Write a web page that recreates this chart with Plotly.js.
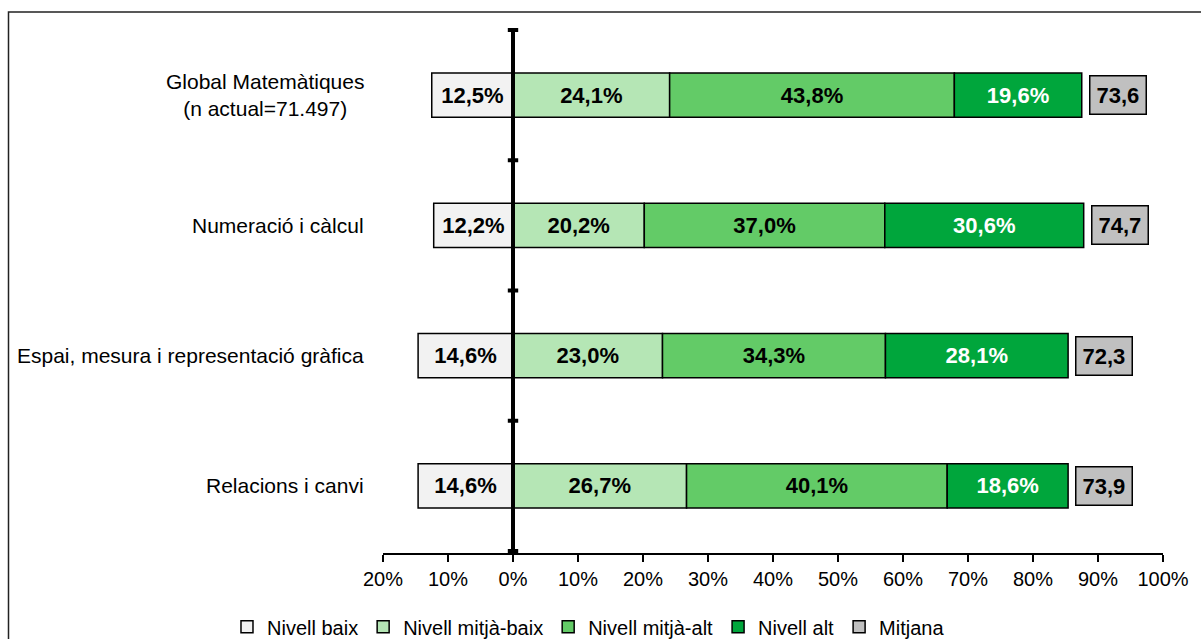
<!DOCTYPE html>
<html>
<head>
<meta charset="utf-8">
<script src="https://cdn.plot.ly/plotly-3.0.1.min.js"></script>
<style>body{margin:0;background:#fff}#chart{width:1201px;height:639px}</style>
</head>
<body>
<div id="chart"></div>
<script>
const categories = ["Global Matemàtiques<br>(n actual=71.497)", "Numeració i càlcul", "Espai, mesura i representació gràfica", "Relacions i canvi"];
const nivellBaix = [12.5, 12.2, 14.6, 14.6];
const nivellMitjaBaix = [24.1, 20.2, 23.0, 26.7];
const nivellMitjaAlt = [43.8, 37.0, 34.3, 40.1];
const nivellAlt = [19.6, 30.6, 28.1, 18.6];
const mitjana = [73.6, 74.7, 72.3, 73.9];
const tickVals = [-20, -10, 0, 10, 20, 30, 40, 50, 60, 70, 80, 90, 100];
const tickText = ["20%", "10%", "0%", "10%", "20%", "30%", "40%", "50%", "60%", "70%", "80%", "90%", "100%"];

const FONT = "Liberation Sans, Arial, sans-serif";
const fmt = v => v.toFixed(1).replace('.', ',') + '%';
const fmtN = v => v.toFixed(1).replace('.', ',');

function barTrace(name, vals, color, textColor, negative) {
  return {
    type: 'bar', orientation: 'h', name: name,
    y: categories, x: vals.map(v => negative ? -v : v),
    marker: {color: color, line: {color: '#000', width: 1.5}},
    text: vals.map(fmt), textposition: 'inside', insidetextanchor: 'middle',
    textfont: {family: FONT, size: 22, color: textColor, weight: 'bold'},
    hoverinfo: 'skip', constraintext: 'none'
  };
}

const traces = [
  barTrace('Nivell baix', nivellBaix, '#f2f2f2', '#000', true),
  barTrace('Nivell mitjà-baix', nivellMitjaBaix, '#b5e6b5', '#000', false),
  barTrace('Nivell mitjà-alt', nivellMitjaAlt, '#63cb67', '#000', false),
  barTrace('Nivell alt', nivellAlt, '#00a63c', '#fff', false),
  {type: 'bar', orientation: 'h', name: 'Mitjana', y: [null], x: [null],
   marker: {color: '#c0c0c0', line: {color: '#000', width: 1.5}}, hoverinfo: 'skip', showlegend: true}
];

const annotations = categories.map((c, i) => ({
  x: nivellMitjaBaix[i] + nivellMitjaAlt[i] + nivellAlt[i], y: c, xref: 'x', yref: 'y',
  text: '<b>' + fmtN(mitjana[i]) + '</b>', showarrow: false, xanchor: 'left', xshift: 7,
  bgcolor: '#c0c0c0', bordercolor: '#000', borderwidth: 1.5, borderpad: 6,
  font: {family: FONT, size: 22, color: '#000'}
}));
categories.forEach(c => annotations.push({
  x: (366 - 383) / 780, xref: 'paper', y: c, yref: 'y', text: c, showarrow: false,
  xanchor: 'right', align: 'center', font: {family: FONT, size: 21, color: '#000'}
}));

const shapes = [
  {type: 'line', xref: 'x', yref: 'paper', x0: 0, x1: 0, y0: 0, y1: 1, line: {color: '#000', width: 4}, layer: 'above'},
  {type: 'rect', xref: 'paper', yref: 'paper', x0: (8.5 - 383) / 780, x1: 1.2, y0: -0.5, y1: 1 + 16 / 525, line: {color: '#222', width: 1.5}}
];
for (let k = 0; k <= categories.length; k++) {
  shapes.push({type: 'line', xref: 'x', yref: 'y', x0: -0.8, x1: 0.8, y0: k - 0.5, y1: k - 0.5, line: {color: '#000', width: 4}, layer: 'above'});
}

const layout = {
  width: 1201, height: 639,
  margin: {l: 383, r: 38, t: 28, b: 86},
  paper_bgcolor: '#fff', plot_bgcolor: '#fff',
  barmode: 'relative', bargap: 0.66,
  font: {family: FONT, size: 20, color: '#000'},
  xaxis: {range: [-20, 100], tickvals: tickVals, ticktext: tickText, showgrid: false, zeroline: false,
          showline: true, linecolor: '#000', linewidth: 1.5, ticks: 'outside', ticklen: 7, tickwidth: 1.5, tickcolor: '#000',
          tickfont: {family: FONT, size: 20}, fixedrange: true},
  yaxis: {type: 'category', autorange: 'reversed', showgrid: false, zeroline: false, showline: false, ticks: '',
          showticklabels: false, fixedrange: true},
  legend: {orientation: 'h', x: 0.49, xanchor: 'center', xref: 'container', y: 0.019, yref: 'container', yanchor: 'middle',
           font: {family: FONT, size: 20}, itemwidth: 30, traceorder: 'normal', tracegroupgap: 0,
           itemclick: false, itemdoubleclick: false},
  annotations: annotations, shapes: shapes, showlegend: true
};

Plotly.newPlot('chart', traces, layout, {displayModeBar: false, staticPlot: true});
</script>
</body>
</html>
